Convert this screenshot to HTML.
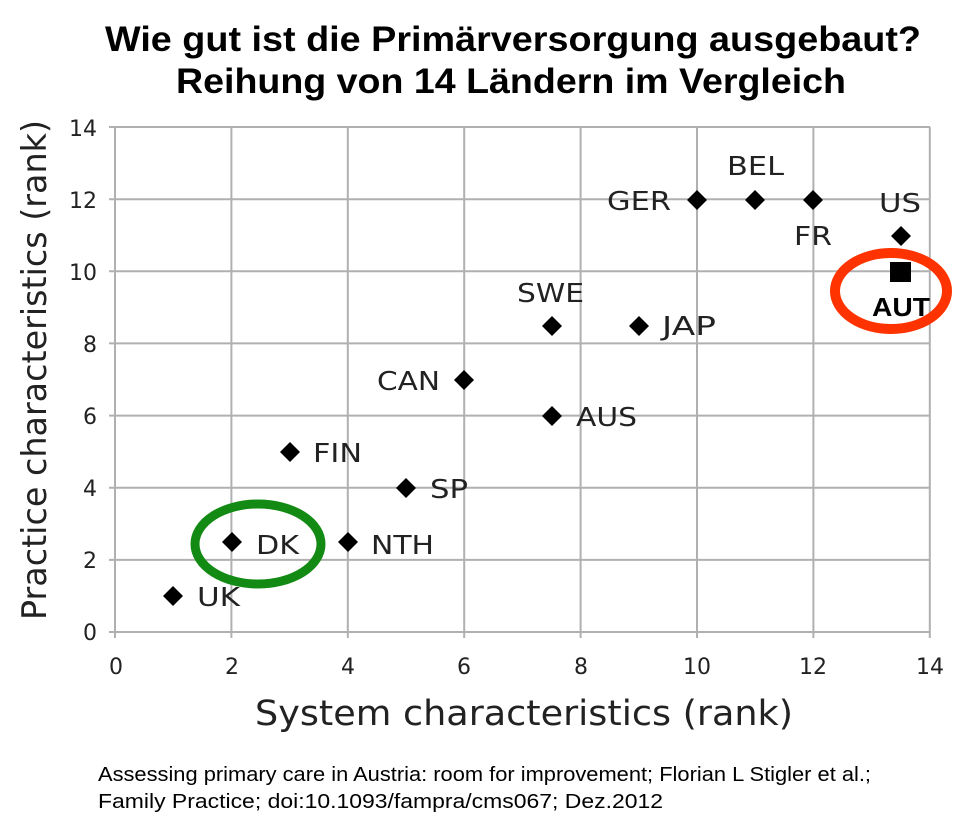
<!DOCTYPE html>
<html><head><meta charset="utf-8"><style>
body{margin:0;background:#fff;width:966px;height:826px;overflow:hidden}
svg{display:block}
</style></head><body>
<svg width="966" height="826" xmlns="http://www.w3.org/2000/svg" font-family="'DejaVu Sans','Liberation Sans',sans-serif">
<text x="105" y="51" textLength="816" lengthAdjust="spacingAndGlyphs" font-family="'Liberation Sans',sans-serif" font-weight="bold" font-size="35">Wie gut ist die Primärversorgung ausgebaut?</text>
<text x="176" y="93" textLength="670" lengthAdjust="spacingAndGlyphs" font-family="'Liberation Sans',sans-serif" font-weight="bold" font-size="35">Reihung von 14 Ländern im Vergleich</text>
<g stroke="#b0b0b0" stroke-width="2">
<line x1="231.4" y1="127" x2="231.4" y2="638"/><line x1="347.8" y1="127" x2="347.8" y2="638"/>
<line x1="464.2" y1="127" x2="464.2" y2="638"/><line x1="580.6" y1="127" x2="580.6" y2="638"/>
<line x1="697" y1="127" x2="697" y2="638"/><line x1="813.4" y1="127" x2="813.4" y2="638"/>
<line x1="929.8" y1="127" x2="929.8" y2="638"/>
<line x1="109" y1="559.9" x2="930" y2="559.9"/><line x1="109" y1="487.7" x2="930" y2="487.7"/>
<line x1="109" y1="415.6" x2="930" y2="415.6"/><line x1="109" y1="343.4" x2="930" y2="343.4"/>
<line x1="109" y1="271.3" x2="930" y2="271.3"/><line x1="109" y1="199.2" x2="930" y2="199.2"/>
<line x1="109" y1="127" x2="930" y2="127"/>
<line x1="115" y1="127" x2="115" y2="638"/><line x1="109" y1="632" x2="930" y2="632"/>
</g>
<g font-size="22" fill="#222" text-anchor="end">
<text x="97" y="640">0</text><text x="97" y="568">2</text><text x="97" y="496">4</text><text x="97" y="424">6</text><text x="97" y="352">8</text><text x="97" y="280">10</text><text x="97" y="208">12</text><text x="97" y="136">14</text>
</g>
<g font-size="22" fill="#222" text-anchor="middle">
<text x="116" y="674">0</text><text x="232" y="674">2</text><text x="348" y="674">4</text><text x="464" y="674">6</text><text x="581" y="674">8</text><text x="697" y="674">10</text><text x="813" y="674">12</text><text x="930" y="674">14</text>
</g>
<text x="255" y="725" textLength="538" lengthAdjust="spacingAndGlyphs" font-size="35" fill="#222">System characteristics (rank)</text>
<text transform="translate(46,620) rotate(-90)" textLength="500" lengthAdjust="spacingAndGlyphs" font-size="34" fill="#222">Practice characteristics (rank)</text>
<g fill="#000">
<path d="M173 586 l10 10 l-10 10 l-10 -10z"/>
<path d="M232 532 l10 10 l-10 10 l-10 -10z"/>
<path d="M348 532 l10 10 l-10 10 l-10 -10z"/>
<path d="M290 442 l10 10 l-10 10 l-10 -10z"/>
<path d="M406 478 l10 10 l-10 10 l-10 -10z"/>
<path d="M464 370 l10 10 l-10 10 l-10 -10z"/>
<path d="M552 406 l10 10 l-10 10 l-10 -10z"/>
<path d="M552 316 l10 10 l-10 10 l-10 -10z"/>
<path d="M639 316 l10 10 l-10 10 l-10 -10z"/>
<path d="M697 190 l10 10 l-10 10 l-10 -10z"/>
<path d="M755 190 l10 10 l-10 10 l-10 -10z"/>
<path d="M813 190 l10 10 l-10 10 l-10 -10z"/>
<path d="M901 226 l10 10 l-10 10 l-10 -10z"/>
<rect x="890" y="262" width="21" height="20"/>
</g>
<g font-size="26" fill="#222">
<text x="197" y="606" textLength="43" lengthAdjust="spacingAndGlyphs">UK</text>
<text x="256" y="554" textLength="43" lengthAdjust="spacingAndGlyphs">DK</text>
<text x="371" y="554" textLength="63" lengthAdjust="spacingAndGlyphs">NTH</text>
<text x="313" y="462" textLength="49" lengthAdjust="spacingAndGlyphs">FIN</text>
<text x="430" y="498" textLength="38" lengthAdjust="spacingAndGlyphs">SP</text>
<text x="377" y="390" textLength="63" lengthAdjust="spacingAndGlyphs">CAN</text>
<text x="576" y="426" textLength="61" lengthAdjust="spacingAndGlyphs">AUS</text>
<text x="517" y="302" textLength="67" lengthAdjust="spacingAndGlyphs">SWE</text>
<text x="662" y="335" textLength="54" lengthAdjust="spacingAndGlyphs">JAP</text>
<text x="607" y="210" textLength="64" lengthAdjust="spacingAndGlyphs">GER</text>
<text x="727" y="175" textLength="57" lengthAdjust="spacingAndGlyphs">BEL</text>
<text x="794" y="245" textLength="38" lengthAdjust="spacingAndGlyphs">FR</text>
<text x="879" y="212" textLength="42" lengthAdjust="spacingAndGlyphs">US</text>
<text x="872" y="316" textLength="58" lengthAdjust="spacingAndGlyphs" font-family="'Liberation Sans',sans-serif" font-weight="bold" font-size="26" fill="#000">AUT</text>
</g>
<ellipse cx="258" cy="544" rx="63" ry="40" fill="none" stroke="#138a13" stroke-width="9"/>
<ellipse cx="891" cy="291" rx="56" ry="38" fill="none" stroke="#ff3300" stroke-width="10"/>
<text x="98" y="781" textLength="773" lengthAdjust="spacingAndGlyphs" font-family="'Liberation Sans',sans-serif" font-size="20" fill="#000">Assessing primary care in Austria: room for improvement;  Florian L Stigler et al.;</text>
<text x="98" y="808" textLength="565" lengthAdjust="spacingAndGlyphs" font-family="'Liberation Sans',sans-serif" font-size="20" fill="#000">Family Practice; doi:10.1093/fampra/cms067; Dez.2012</text>
</svg>
</body></html>
